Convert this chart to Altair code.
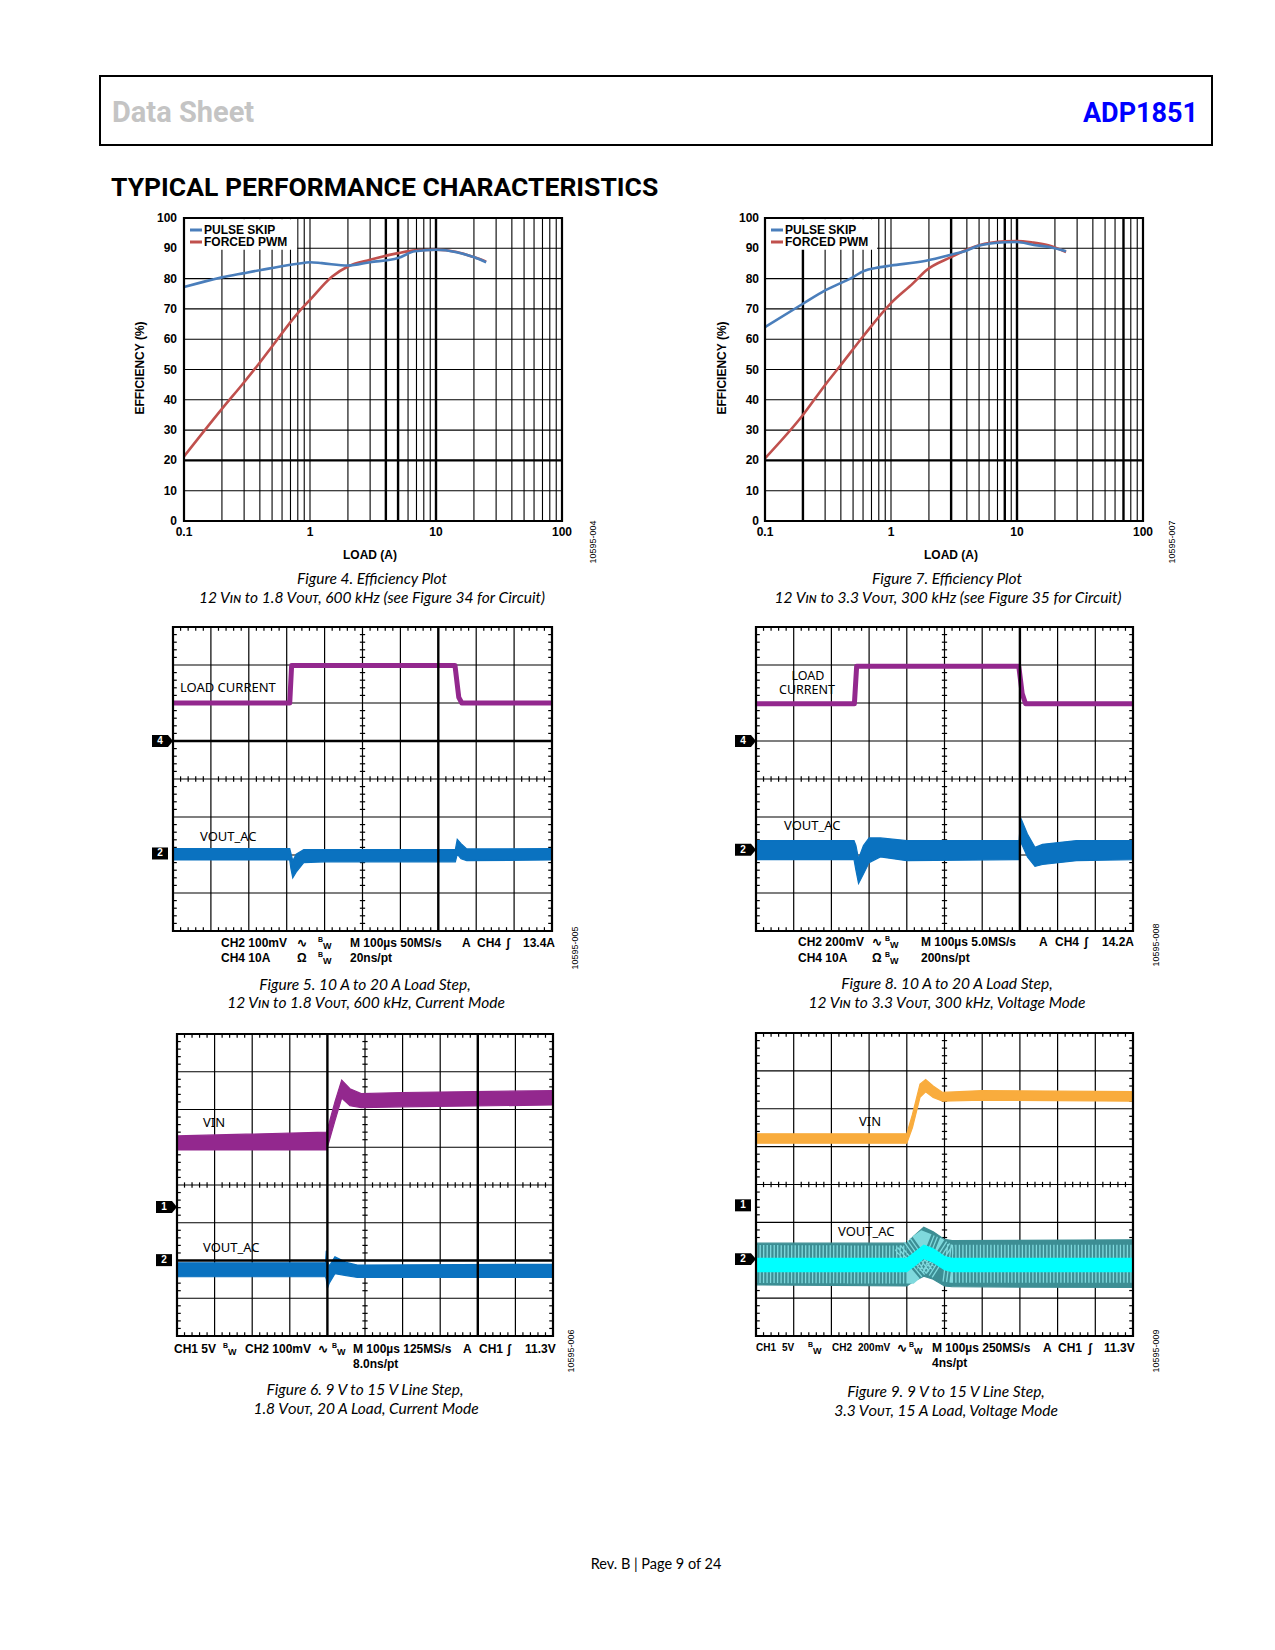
import altair as alt
import pandas as pd

# ---------------- data ----------------
EFF_Y_TICKS = [0, 10, 20, 30, 40, 50, 60, 70, 80, 90, 100]
EFF_Y_LABELS = ["0", "10", "20", "30", "40", "50", "60", "70", "80", "90", "100"]
EFF_X_TICKS = [0.1, 1, 10, 100]
EFF_X_LABELS = ["0.1", "1", "10", "100"]

# Figure 4 (12 V in, 1.8 V out, 600 kHz)
F4_PS_X = [0.1, 0.2, 0.3, 0.5, 0.8, 1.0, 1.24, 2.0, 3.0, 5.0, 6.8, 10, 14.6, 19.9, 25]
F4_PS_Y = [77.2, 80.4, 81.8, 83.5, 84.9, 85.4, 85.1, 84.3, 85.4, 86.8, 89.0, 89.5, 88.7, 87.1, 85.4]
F4_PWM_X = [0.1, 0.2, 0.3, 0.4, 0.5, 0.8, 1.0, 1.5, 2.0, 3.0, 5.0, 6.8, 10, 14.6, 19.9, 25]
F4_PWM_Y = [21.3, 37.0, 45.8, 52.3, 57.6, 68.6, 73.0, 80.7, 84.0, 86.2, 88.4, 89.3, 89.5, 88.8, 87.1, 85.6]

# Figure 7 (12 V in, 3.3 V out, 300 kHz)
F7_PS_X = [0.1, 0.2, 0.3, 0.5, 0.6, 0.8, 1.0, 1.9, 3.0, 4.0, 5.0, 8.0, 10, 13.3, 18, 24.5]
F7_PS_Y = [64.0, 71.7, 76.1, 80.5, 82.4, 83.7, 84.3, 85.9, 87.9, 89.3, 90.9, 92.0, 92.1, 91.2, 90.4, 89.0]
F7_PWM_X = [0.1, 0.2, 0.3, 0.4, 0.6, 1.0, 1.5, 1.9, 3.0, 4.0, 5.0, 8.0, 10, 13.3, 18, 24.5]
F7_PWM_Y = [20.7, 35.0, 44.9, 51.5, 60.9, 71.9, 78.5, 82.7, 87.1, 89.5, 91.0, 92.3, 92.4, 91.9, 90.9, 88.8]

# Figure 5 scope traces (divisions)
F5_I_T = [0, 3.08, 3.13, 7.44, 7.54, 7.62, 10]
F5_I_V = [2.0, 2.0, 2.99, 2.99, 2.15, 2.0, 2.0]
F5_V_T = [0, 3.08, 3.11, 3.16, 3.25, 3.45, 4.0, 7.45, 7.5, 7.6, 7.75, 10]
F5_V_LO = [-2.13, -2.13, -2.35, -2.6, -2.45, -2.2, -2.18, -2.18, -1.98, -2.1, -2.15, -2.13]
F5_V_HI = [-1.83, -1.83, -1.95, -2.15, -1.98, -1.86, -1.86, -1.86, -1.59, -1.7, -1.84, -1.83]

# Figure 8 scope traces
F8_I_T = [0, 2.61, 2.67, 6.97, 7.06, 7.15, 10]
F8_I_V = [1.98, 1.98, 2.97, 2.97, 2.25, 1.98, 1.98]
F8_V_T = [0, 2.6, 2.65, 2.72, 2.85, 3.0, 3.3, 4.0, 6.98, 7.02, 7.2, 7.4, 7.6, 8.5, 10]
F8_V_LO = [-2.12, -2.12, -2.4, -2.75, -2.5, -2.2, -2.05, -2.15, -2.12, -1.65, -2.05, -2.3, -2.25, -2.15, -2.12]
F8_V_HI = [-1.62, -1.62, -1.75, -2.1, -1.75, -1.55, -1.55, -1.62, -1.62, -1.02, -1.45, -1.8, -1.72, -1.62, -1.62]

# Figure 6 scope traces
F6_VIN_T = [0, 3.98, 4.2, 4.38, 4.6, 4.9, 6, 10]
F6_VIN_LO = [0.93, 0.93, 1.7, 2.3, 2.1, 2.05, 2.07, 2.12]
F6_VIN_HI = [1.3, 1.4, 2.2, 2.78, 2.55, 2.42, 2.45, 2.5]
F6_VO_T = [0, 3.95, 3.97, 4.0, 4.05, 4.2, 4.5, 4.8, 10]
F6_VO_LO = [-2.43, -2.43, -2.5, -2.74, -2.6, -2.35, -2.4, -2.45, -2.45]
F6_VO_HI = [-2.06, -2.06, -1.74, -2.0, -2.15, -1.9, -2.05, -2.12, -2.1]

# Figure 9 scope traces
F9_VIN_T = [0, 4.0, 4.15, 4.35, 4.5, 4.7, 4.95, 6, 10]
F9_VIN_LO = [1.09, 1.09, 1.5, 2.3, 2.45, 2.3, 2.2, 2.23, 2.2]
F9_VIN_HI = [1.34, 1.34, 1.85, 2.65, 2.77, 2.6, 2.43, 2.48, 2.45]
F9_VO_T = [0, 4.0, 4.2, 4.45, 4.7, 5.0, 5.2, 10]
F9_VO_OLO = [-2.65, -2.68, -2.55, -2.42, -2.5, -2.68, -2.7, -2.72]
F9_VO_OHI = [-1.55, -1.55, -1.35, -1.13, -1.25, -1.45, -1.48, -1.46]
F9_VO_ILO = [-2.3, -2.3, -2.15, -1.95, -2.05, -2.25, -2.3, -2.3]
F9_VO_IHI = [-1.95, -1.95, -1.8, -1.6, -1.7, -1.9, -1.95, -1.95]

# ---------------- helpers ----------------
OFF = 8
W, H = 1259, 1634
ARIAL = "Liberation Sans, Arial, sans-serif"
NARROW = "Roboto, 'Liberation Sans', sans-serif"
MYRIAD = "Lato, 'Noto Sans', 'DejaVu Sans', sans-serif"
LABEL = "'Noto Sans', 'Open Sans', sans-serif"

ONE = pd.DataFrame({"d": [0]})
layers = []


def P(v):
    return v - OFF


def text(x, y, s, size=12, weight="normal", color="black", align="left",
         baseline="middle", font=ARIAL, style="normal", angle=None):
    kw = dict(text=s, fontSize=size, fontWeight=weight, color=color, align=align,
              baseline=baseline, font=font, fontStyle=style)
    if angle is not None:
        kw["angle"] = angle
    layers.append(alt.Chart(ONE).mark_text(**kw).encode(x=alt.value(P(x)), y=alt.value(P(y))))


def hseg(xa, xb, y, color, width):
    layers.append(alt.Chart(ONE).mark_rule(color=color, strokeWidth=width).encode(
        x=alt.value(P(xa)), x2=alt.value(P(xb)), y=alt.value(P(y))))


def lin(dom, r0, r1):
    return alt.Scale(type="linear", domain=dom, range=[P(r0), P(r1)], zero=False, nice=False)


# ---------------- header ----------------
layers.append(alt.Chart(ONE).mark_rect(fill="transparent", stroke="black", strokeWidth=2).encode(
    x=alt.value(P(100)), x2=alt.value(P(1212)), y=alt.value(P(76)), y2=alt.value(P(145))))
text(112, 122, "Data Sheet", size=29, weight="bold", color="#C4C4C4", baseline="alphabetic", font=NARROW)
text(1198, 122, "ADP1851", size=27, weight="bold", color="#0000FF", align="right",
     baseline="alphabetic", font=NARROW)
text(111, 196, "TYPICAL PERFORMANCE CHARACTERISTICS", size=26.5, weight="bold",
     baseline="alphabetic", font=NARROW)


# ---------------- efficiency panels ----------------
def eff_panel(x0, x1, ps_x, ps_y, pwm_x, pwm_y, thick_x, leg_hi, ylab_x, ytitle_x, leg_x0):
    y0, y1 = 218, 521
    xs = alt.Scale(type="log", domain=[0.1, 100], range=[P(x0), P(x1)])
    ys = lin([0, 100], y1, y0)

    def X(f):
        return alt.X(f, type="quantitative", scale=xs, axis=None)

    def Y(f):
        return alt.Y(f, type="quantitative", scale=ys, axis=None)

    grid_x = []
    for dec in [0.1, 1, 10]:
        for k in range(2, 10):
            grid_x.append(round(dec * k, 4))
    grid_x += [1, 10]
    thin_x = [v for v in grid_x if v not in thick_x]
    for vals, sw in [(thin_x, 1.1), (thick_x, 2.4)]:
        layers.append(alt.Chart(pd.DataFrame({"v": vals})).mark_rule(color="black", strokeWidth=sw)
                      .transform_calculate(a="0", b="100")
                      .encode(x=X("v"), y=Y("a"), y2="b"))
    thin_y = [v for v in EFF_Y_TICKS[1:-1] if v != 20]
    for vals, sw in [(thin_y, 1.1), ([20], 2.4)]:
        layers.append(alt.Chart(pd.DataFrame({"v": vals})).mark_rule(color="black", strokeWidth=sw)
                      .transform_calculate(a="0.1", b="100")
                      .encode(y=Y("v"), x=X("a"), x2="b"))
    # legend background
    layers.append(alt.Chart(ONE).mark_rect(color="white")
                  .transform_calculate(a="0.1", b=str(leg_hi), c="89.5", e="99.6")
                  .encode(x=X("a"), x2="b", y=Y("c"), y2="e"))
    # curves
    for xv, yv, col in [(pwm_x, pwm_y, "#C0504D"), (ps_x, ps_y, "#4A7EBB")]:
        layers.append(alt.Chart(pd.DataFrame({"load": xv, "eff": yv}))
                      .mark_line(interpolate="monotone", strokeWidth=2.6, color=col)
                      .encode(x=X("load"), y=Y("eff")))
    # frame
    layers.append(alt.Chart(ONE).mark_rect(fill="transparent", stroke="black", strokeWidth=2.2)
                  .transform_calculate(a="0.1", b="100", c="0", e="100")
                  .encode(x=X("a"), x2="b", y=Y("c"), y2="e"))
    # tick labels
    layers.append(alt.Chart(pd.DataFrame({"v": EFF_Y_TICKS, "t": EFF_Y_LABELS}))
                  .mark_text(align="right", baseline="middle", font=ARIAL, fontSize=12, fontWeight="bold")
                  .encode(x=alt.value(P(ylab_x)), y=Y("v"), text="t:N"))
    layers.append(alt.Chart(pd.DataFrame({"v": EFF_X_TICKS, "t": EFF_X_LABELS}))
                  .mark_text(align="center", baseline="middle", font=ARIAL, fontSize=12, fontWeight="bold")
                  .encode(x=X("v"), y=alt.value(P(532)), text="t:N"))
    # titles
    text(ytitle_x, 368, "EFFICIENCY (%)", size=12, weight="bold", align="center", angle=270)
    text((x0 + x1) / 2 - 3, 555, "LOAD (A)", size=12, weight="bold", align="center")
    # legend entries
    hseg(leg_x0 + 4, leg_x0 + 16, 230, "#4A7EBB", 3)
    hseg(leg_x0 + 4, leg_x0 + 16, 242, "#C0504D", 3)
    text(leg_x0 + 18, 230, "PULSE SKIP", size=12, weight="bold")
    text(leg_x0 + 18, 242, "FORCED PWM", size=12, weight="bold")


eff_panel(184, 562, F4_PS_X, F4_PS_Y, F4_PWM_X, F4_PWM_Y, [4, 5, 10], 0.79, 177, 140, 186)
eff_panel(765, 1143, F7_PS_X, F7_PS_Y, F7_PWM_X, F7_PWM_Y, [0.2, 3, 8, 10, 70], 0.775, 759, 722, 767)
text(593, 542, "10595-004", size=9, align="center", angle=270)
text(1172, 542, "10595-007", size=9, align="center", angle=270)

# ---------------- scope panels ----------------
ARROW = "M-1,-0.57 L0.52,-0.57 L1,0 L0.52,0.57 L-1,0.57 Z"
BOX = "M-1,-0.75 L1,-0.75 L1,0.75 L-1,0.75 Z"


def scope_panel(x0, x1, y0, y1, thick_v, thick_h, traces, markers):
    xs = lin([0, 10], x0, x1)
    ys = lin([-4, 4], y1, y0)

    def X(f):
        return alt.X(f, type="quantitative", scale=xs, axis=None)

    def Y(f):
        return alt.Y(f, type="quantitative", scale=ys, axis=None)

    vx = [v for v in range(1, 10) if v not in thick_v]
    hy = [v for v in range(-3, 4) if v not in thick_h]
    layers.append(alt.Chart(pd.DataFrame({"v": vx})).mark_rule(color="black", strokeWidth=1.2)
                  .transform_calculate(a="-4", b="4").encode(x=X("v"), y=Y("a"), y2="b"))
    layers.append(alt.Chart(pd.DataFrame({"v": hy})).mark_rule(color="black", strokeWidth=1.2)
                  .transform_calculate(a="0", b="10").encode(y=Y("v"), x=X("a"), x2="b"))
    # minor ticks (graticule)
    xa, xb, ya, yb = [], [], [], []
    for i in range(1, 50):
        t = round(i * 0.2, 3)
        if abs(t - round(t)) < 1e-6:
            continue
        for (p, q) in [(4, 3.9), (-4, -3.9), (-0.07, 0.07)]:
            xa.append(t); xb.append(t); ya.append(p); yb.append(q)
    for j in range(-19, 20):
        v = round(j * 0.2, 3)
        if abs(v - round(v)) < 1e-6:
            continue
        for (p, q) in [(0, 0.1), (10, 9.9), (4.93, 5.07)]:
            xa.append(p); xb.append(q); ya.append(v); yb.append(v)
    layers.append(alt.Chart(pd.DataFrame({"xa": xa, "xb": xb, "ya": ya, "yb": yb}))
                  .mark_rule(color="black", strokeWidth=1.2)
                  .encode(x=X("xa"), x2="xb", y=Y("ya"), y2="yb"))
    # traces
    for tr in traces:
        kind = tr[0]
        if kind == "line":
            _, t, v, col, sw = tr
            layers.append(alt.Chart(pd.DataFrame({"t": t, "v": v}))
                          .mark_line(color=col, strokeWidth=sw, strokeJoin="round")
                          .encode(x=X("t"), y=Y("v")))
        elif kind == "band":
            _, t, lo, hi, col = tr
            layers.append(alt.Chart(pd.DataFrame({"t": t, "lo": lo, "hi": hi}))
                          .mark_area(color=col, opacity=1, interpolate="linear")
                          .encode(x=X("t"), y=Y("lo"), y2="hi"))
            layers.append(alt.Chart(pd.DataFrame({"t": t, "lo": lo, "hi": hi}))
                          .mark_area(fill="transparent", stroke=col, strokeWidth=1.2)
                          .encode(x=X("t"), y=Y("lo"), y2="hi"))
        elif kind == "hatch":
            _, t, lo, hi, col, sw = tr
            layers.append(alt.Chart(pd.DataFrame({"t": t, "lo": lo, "hi": hi}))
                          .transform_calculate(mid="(datum.lo + datum.hi) / 2")
                          .mark_line(color=col, strokeWidth=sw, strokeDash=[1.3, 2.2])
                          .encode(x=X("t"), y=Y("mid")))
    # thick lines on top
    if thick_v:
        layers.append(alt.Chart(pd.DataFrame({"v": thick_v})).mark_rule(color="black", strokeWidth=2.4)
                      .transform_calculate(a="-4", b="4").encode(x=X("v"), y=Y("a"), y2="b"))
    if thick_h:
        layers.append(alt.Chart(pd.DataFrame({"v": thick_h})).mark_rule(color="black", strokeWidth=2.4)
                      .transform_calculate(a="0", b="10").encode(y=Y("v"), x=X("a"), x2="b"))
    # border
    layers.append(alt.Chart(ONE).mark_rect(fill="transparent", stroke="black", strokeWidth=2.2)
                  .transform_calculate(a="0", b="10", c="-4", e="4")
                  .encode(x=X("a"), x2="b", y=Y("c"), y2="e"))
    # channel markers
    for (num, lvl, arrow) in markers:
        shp = ARROW if arrow else BOX
        size = 441 if arrow else 256
        cx = x0 - 10.5 if arrow else x0 - 13
        layers.append(alt.Chart(pd.DataFrame({"lvl": [lvl]}))
                      .mark_point(shape=shp, filled=True, color="black", size=size, opacity=1)
                      .encode(x=alt.value(P(cx)), y=Y("lvl")))
        layers.append(alt.Chart(pd.DataFrame({"lvl": [lvl], "n": [num]}))
                      .mark_text(color="white", font=ARIAL, fontSize=10, fontWeight="bold",
                                 align="center", baseline="middle")
                      .encode(x=alt.value(P(x0 - 13)), y=Y("lvl"), text="n:N"))


def bw(x, y):
    text(x, y - 3, "B", size=7, weight="bold")
    text(x + 5, y + 3, "W", size=9, weight="bold")


PURPLE = "#93288E"
BLUE = "#0A72C0"

# Figure 5
scope_panel(173, 552, 627, 931, [7], [1],
            [("line", F5_I_T, F5_I_V, PURPLE, 5),
             ("band", F5_V_T, F5_V_LO, F5_V_HI, BLUE)],
            [("4", 1, True), ("2", -1.96, False)])
text(180, 688, "LOAD CURRENT", size=13, font=LABEL)
text(200, 837, "VOUT_AC", size=13, font=LABEL)
text(221, 943, "CH2 100mV", weight="bold"); text(297, 943, "∿", weight="bold"); bw(318, 943)
text(350, 943, "M 100µs 50MS/s", weight="bold"); text(462, 943, "A", weight="bold")
text(477, 943, "CH4", weight="bold"); text(506, 943, "ʃ", weight="bold"); text(523, 943, "13.4A", weight="bold")
text(221, 958, "CH4 10A", weight="bold"); text(297, 958, "Ω", weight="bold"); bw(318, 958)
text(350, 958, "20ns/pt", weight="bold")
text(575, 948, "10595-005", size=9, align="center", angle=270)

# Figure 8
scope_panel(756, 1133, 627, 931, [7], [],
            [("line", F8_I_T, F8_I_V, PURPLE, 5),
             ("band", F8_V_T, F8_V_LO, F8_V_HI, BLUE)],
            [("4", 1, True), ("2", -1.86, True)])
text(808, 676, "LOAD", size=12.5, font=LABEL, align="center")
text(807, 690, "CURRENT", size=12.5, font=LABEL, align="center")
text(784, 826, "VOUT_AC", size=13, font=LABEL)
text(798, 942, "CH2 200mV", weight="bold"); text(872, 942, "∿", weight="bold"); bw(885, 942)
text(921, 942, "M 100µs 5.0MS/s", weight="bold"); text(1039, 942, "A", weight="bold")
text(1055, 942, "CH4", weight="bold"); text(1084, 942, "ʃ", weight="bold"); text(1102, 942, "14.2A", weight="bold")
text(798, 958, "CH4 10A", weight="bold"); text(872, 958, "Ω", weight="bold"); bw(885, 958)
text(921, 958, "200ns/pt", weight="bold")
text(1156, 945, "10595-008", size=9, align="center", angle=270)

# Figure 6
scope_panel(177, 553, 1034, 1336, [4, 8], [-2],
            [("band", F6_VIN_T, F6_VIN_LO, F6_VIN_HI, PURPLE),
             ("band", F6_VO_T, F6_VO_LO, F6_VO_HI, BLUE)],
            [("1", -0.58, True), ("2", -1.99, False)])
text(203, 1123, "VIN", size=13, font=LABEL)
text(203, 1248, "VOUT_AC", size=13, font=LABEL)
text(174, 1349, "CH1 5V", weight="bold"); bw(223, 1349)
text(245, 1349, "CH2 100mV", weight="bold"); text(318, 1349, "∿", weight="bold"); bw(332, 1349)
text(353, 1349, "M 100µs 125MS/s", weight="bold"); text(463, 1349, "A", weight="bold")
text(479, 1349, "CH1", weight="bold"); text(507, 1349, "ʃ", weight="bold"); text(525, 1349, "11.3V", weight="bold")
text(353, 1364, "8.0ns/pt", weight="bold")
text(571, 1351, "10595-006", size=9, align="center", angle=270)

# Figure 9
scope_panel(756, 1133, 1033, 1336, [], [],
            [("band", F9_VIN_T, F9_VIN_LO, F9_VIN_HI, "#F9AC3D"),
             ("band", F9_VO_T, F9_VO_OLO, F9_VO_OHI, "#3C8E94"),
             ("hatch", F9_VO_T, F9_VO_OLO, F9_VO_OHI, "#7FD9DD", 38),
             ("band", F9_VO_T, F9_VO_ILO, F9_VO_IHI, "#00FFFF")],
            [("1", -0.55, False), ("2", -1.97, True)])
text(859, 1122, "VIN", size=13, font=LABEL)
text(838, 1232, "VOUT_AC", size=13, font=LABEL)
text(756, 1348, "CH1", size=10, weight="bold"); text(782, 1348, "5V", size=10, weight="bold"); bw(808, 1348)
text(832, 1348, "CH2", size=10, weight="bold"); text(858, 1348, "200mV", size=10, weight="bold")
text(897, 1348, "∿", weight="bold"); bw(909, 1348)
text(932, 1348, "M 100µs 250MS/s", weight="bold"); text(1043, 1348, "A", weight="bold")
text(1058, 1348, "CH1", weight="bold"); text(1088, 1348, "ʃ", weight="bold"); text(1104, 1348, "11.3V", weight="bold")
text(932, 1363, "4ns/pt", weight="bold")
text(1156, 1351, "10595-009", size=9, align="center", angle=270)

# ---------------- captions ----------------
CAP = dict(size=15.5, font=MYRIAD, style="italic", align="center")
text(372, 579, "Figure 4. Efficiency Plot", **CAP)
text(372, 598, "12 Vɪɴ to 1.8 Vᴏᴜᴛ, 600 kHz (see Figure 34 for Circuit)", **CAP)
text(947, 579, "Figure 7. Efficiency Plot", **CAP)
text(948, 598, "12 Vɪɴ to 3.3 Vᴏᴜᴛ, 300 kHz (see Figure 35 for Circuit)", **CAP)
text(365, 985, "Figure 5. 10 A to 20 A Load Step,", **CAP)
text(366, 1003, "12 Vɪɴ to 1.8 Vᴏᴜᴛ, 600 kHz, Current Mode", **CAP)
text(947, 984, "Figure 8. 10 A to 20 A Load Step,", **CAP)
text(947, 1003, "12 Vɪɴ to 3.3 Vᴏᴜᴛ, 300 kHz, Voltage Mode", **CAP)
text(365, 1390, "Figure 6. 9 V to 15 V Line Step,", **CAP)
text(366, 1409, "1.8 Vᴏᴜᴛ, 20 A Load, Current Mode", **CAP)
text(946, 1392, "Figure 9. 9 V to 15 V Line Step,", **CAP)
text(946, 1411, "3.3 Vᴏᴜᴛ, 15 A Load, Voltage Mode", **CAP)

text(656, 1565, "Rev. B | Page 9 of 24", size=14.5, font=MYRIAD, align="center")

chart = (alt.layer(*layers)
         .resolve_scale(x="independent", y="independent")
         .properties(width=W, height=H, padding=0, autosize=alt.AutoSizeParams(type="none"))
         .configure_view(stroke="transparent"))

chart.save("out.html", embed_options={"renderer": "svg", "actions": False})
